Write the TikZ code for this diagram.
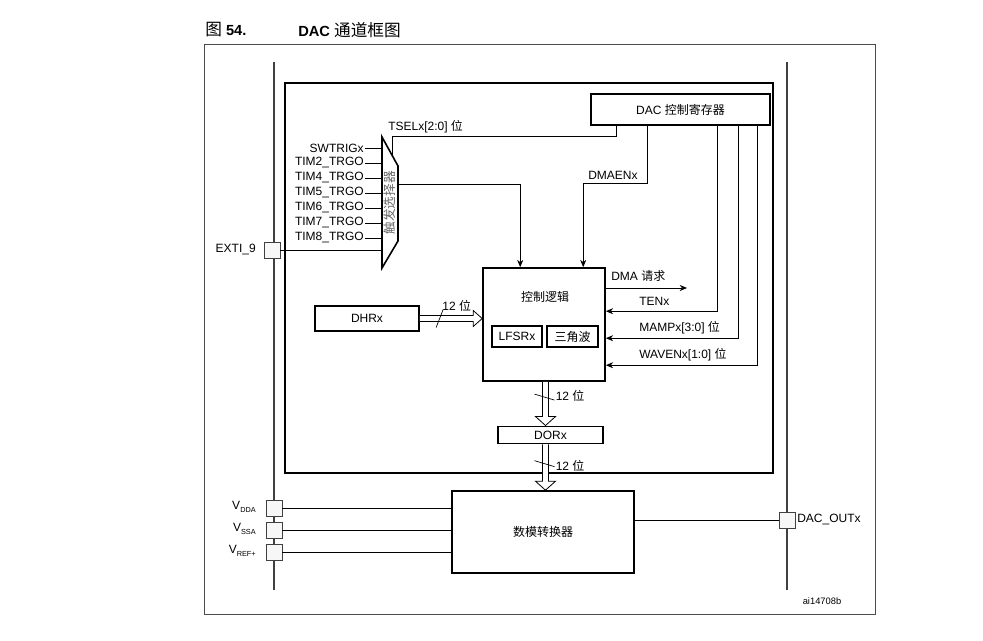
\documentclass[tikz,border=0pt]{standalone}
\usepackage{fontspec}
\setmainfont{Liberation Sans}
\newfontfamily\cjk{Noto Sans CJK SC}
\usetikzlibrary{calc,arrows.meta}
\newcommand{\mybusv}[2]{\draw[busline] ($(#1)+(-3,0)$) -- ($(#2)+(-3,-9)$) -- ($(#2)+(-10,-9)$) -- (#2) -- ($(#2)+(10,-9)$) -- ($(#2)+(3,-9)$) -- ($(#1)+(3,0)$);}
\newcommand{\mybush}[2]{\draw[busline] ($(#1)+(0,-3)$) -- ($(#2)+(-9,-3)$) -- ($(#2)+(-9,-8)$) -- (#2) -- ($(#2)+(-9,8)$) -- ($(#2)+(-9,3)$) -- ($(#1)+(0,3)$);}
\begin{document}
\begin{tikzpicture}[x=0.75pt,y=-0.75pt,
  lbl/.style={font=\fontsize{9}{10}\selectfont, inner sep=0pt},
  box/.style={draw, line width=1.2pt, inner sep=0pt, font=\fontsize{9}{10}\selectfont},
  wire/.style={line width=0.5pt},
  arr/.style={line width=0.5pt, -{Stealth[length=5.5pt,width=4.5pt]}},
  rail/.style={draw=black!75, line width=0.8pt},
  pad/.style={draw=black!75, fill=black!3, minimum size=12pt, inner sep=0pt, line width=0.6pt},
  busline/.style={line width=0.6pt, fill=white}]
\useasboundingbox (0,0) rectangle (983,641);

% title
\node[anchor=west, inner sep=0pt, font=\fontsize{11}{12}\selectfont] (fig) at (205,30) {{\cjk\fontsize{12.5}{13}\selectfont 图} \textbf{54.}};
\node[anchor=west, inner sep=0pt, font=\fontsize{11}{12}\selectfont] (ttl) at (298,30) {\textbf{DAC} {\cjk\fontsize{12.5}{13}\selectfont 通道框图}};

% outer frame
\draw[draw=black!70, line width=0.7pt] (204,44) rectangle (875,614);

% rails
\coordinate (rl1) at (274,62); \coordinate (rl2) at (274,590);
\coordinate (rr1) at (787,62); \coordinate (rr2) at (787,590);
\draw[rail] (rl1) -- (rl2);
\draw[rail] (rr1) -- (rr2);

% inner frame
\node[draw, line width=1.8pt, inner sep=0pt, minimum width=366pt, minimum height=292.5pt] (inner) at (529,278) {};

% register
\node[box, minimum width=134.25pt, minimum height=23.25pt] (reg) at (680.5,109.5) {DAC {\cjk 控制寄存器}};

% control logic
\node[box, minimum width=91.5pt, minimum height=84.75pt] (ctrl) at (544,324.5) {};
\node[lbl] (ctrltxt) at (545,297) {\cjk 控制逻辑};
\node[box, minimum width=37.5pt, minimum height=15.75pt] (lfsr) at (517,336.5) {LFSRx};
\node[box, minimum width=38.25pt, minimum height=15.75pt] (tri) at (572.5,336.5) {\cjk 三角波};

% DHR, DOR, converter
\node[box, minimum width=78pt, minimum height=18.75pt] (dhr) at (367,318.5) {DHRx};
\node[box, minimum width=78.75pt, minimum height=13pt] (dor) at (550.5,435) {DORx};
\node[box, minimum width=136.5pt, minimum height=61.5pt] (conv) at (543,532) {\cjk 数模转换器};

% mux
\coordinate (m1) at (382,137); \coordinate (m2) at (398,166);
\coordinate (m3) at (398,241); \coordinate (m4) at (382,268);
\draw[line width=1.2pt, line join=miter] (m1) -- (m2) -- (m3) -- (m4) -- cycle;
\node[rotate=90, inner sep=0pt, text=black!60, font=\cjk\fontsize{9.5}{10}\selectfont] (muxlbl) at (390,203) {触发选择器};

% mux inputs
\node[lbl, anchor=east] (sw) at (364,148) {SWTRIGx};
\node[lbl, anchor=east] (t2) at (364,163) {TIM2\_TRGO};
\node[lbl, anchor=east] (t4) at (364,178) {TIM4\_TRGO};
\node[lbl, anchor=east] (t5) at (364,193) {TIM5\_TRGO};
\node[lbl, anchor=east] (t6) at (364,208) {TIM6\_TRGO};
\node[lbl, anchor=east] (t7) at (364,223) {TIM7\_TRGO};
\node[lbl, anchor=east] (t8) at (364,238) {TIM8\_TRGO};
\foreach \n in {sw,t2,t4,t5,t6,t7,t8} \draw[wire] ([xshift=0.8pt]\n.east) -- (\n.east -| m1);

% EXTI
\node[pad] (exti) at (272,250) {};
\node[lbl, anchor=east] (extil) at (256,250) {EXTI\_9};
\draw[wire] (exti.east) -- (exti.east -| m1);

% TSEL
\coordinate (ts) at (392,155);
\draw[wire] (ts) |- ($(reg.south west)+(26,11)$) -- ($(reg.south west)+(26,0)$);
\node[lbl, anchor=west] (tsel) at (388,127) {TSELx[2:0] {\cjk 位}};

% mux output
\coordinate (mo) at (398,184);
\draw[arr] (mo) -| ($(ctrl.north west)+(38,0)$);

% DMAEN
\draw[arr] ($(reg.south west)+(57,0)$) |- ($(ctrl.north west)+(101,-84)$) -- ($(ctrl.north west)+(101,0)$);
\node[lbl, anchor=west] (dmaen) at (588,175) {DMAENx};

% DMA request
\coordinate (dmaend) at (687,288);
\draw[arr] (ctrl.east |- dmaend) -- (dmaend);
\node[lbl, anchor=west] (dmareq) at (611,276) {DMA {\cjk 请求}};

% TEN, MAMP, WAVEN
\draw[arr] ($(reg.south west)+(127,0)$) |- ($(ctrl.north east)+(0,44)$);
\draw[arr] ($(reg.south west)+(148,0)$) |- ($(ctrl.north east)+(0,71)$);
\draw[arr] ($(reg.south west)+(167,0)$) |- ($(ctrl.north east)+(0,98)$);
\node[lbl, anchor=west] (ten) at (639,301) {TENx};
\node[lbl, anchor=west] (mamp) at (639,328) {MAMPx[3:0] {\cjk 位}};
\node[lbl, anchor=west] (waven) at (639,355) {WAVENx[1:0] {\cjk 位}};

% buses
\coordinate (busX) at (545.5,0);
\coordinate (b1s) at (dhr.east); \coordinate (b1e) at (dhr.east -| ctrl.west);
\coordinate (b2s) at (ctrl.south -| busX); \coordinate (b2e) at (dor.north -| busX);
\coordinate (b3s) at (dor.south -| busX); \coordinate (b3e) at (conv.north -| busX);
\mybush{b1s}{b1e}
\mybusv{b2s}{b2e}
\mybusv{b3s}{b3e}
\draw[wire] ($(b1s)!0.31!(b1e)$) +(-3,9) -- +(4,-9);
\node[lbl, anchor=west] (l1) at ($(b1s)!0.31!(b1e)+(3,-12.5)$) {12 {\cjk 位}};
\draw[wire] ($(b2s)!0.35!(b2e)$) +(-11,-3) -- +(9,3);
\node[lbl, anchor=west] (l2) at ($(b2s)!0.35!(b2e)+(10,-1)$) {12 {\cjk 位}};
\draw[wire] ($(b3s)!0.42!(b3e)$) +(-11,-3) -- +(9,3);
\node[lbl, anchor=west] (l3) at ($(b3s)!0.42!(b3e)+(10,2)$) {12 {\cjk 位}};

% power pads
\node[pad] (vdda) at (274,508) {};
\node[pad] (vssa) at (274,530) {};
\node[pad] (vref) at (274,552) {};
\draw[wire] (vdda.east) -- (vdda.east -| conv.west);
\draw[wire] (vssa.east) -- (vssa.east -| conv.west);
\draw[wire] (vref.east) -- (vref.east -| conv.west);
\node[lbl, anchor=east] (vddal) at (256,507) {V\raisebox{-0.5ex}{\fontsize{5.5}{6}\selectfont DDA}};
\node[lbl, anchor=east] (vssal) at (256,529) {V\raisebox{-0.5ex}{\fontsize{5.5}{6}\selectfont SSA}};
\node[lbl, anchor=east] (vrefl) at (256,551) {V\raisebox{-0.5ex}{\fontsize{5.5}{6}\selectfont REF+}};

% output
\node[pad] (out) at (787,520) {};
\draw[wire] (conv.east |- out.west) -- (out.west);
\node[lbl, anchor=west] (outl) at (797,520) {DAC\_OUTx};

\node[inner sep=0pt, font=\fontsize{7}{8}\selectfont] (ref) at (822,601) {ai14708b};
\end{tikzpicture}
\end{document}
